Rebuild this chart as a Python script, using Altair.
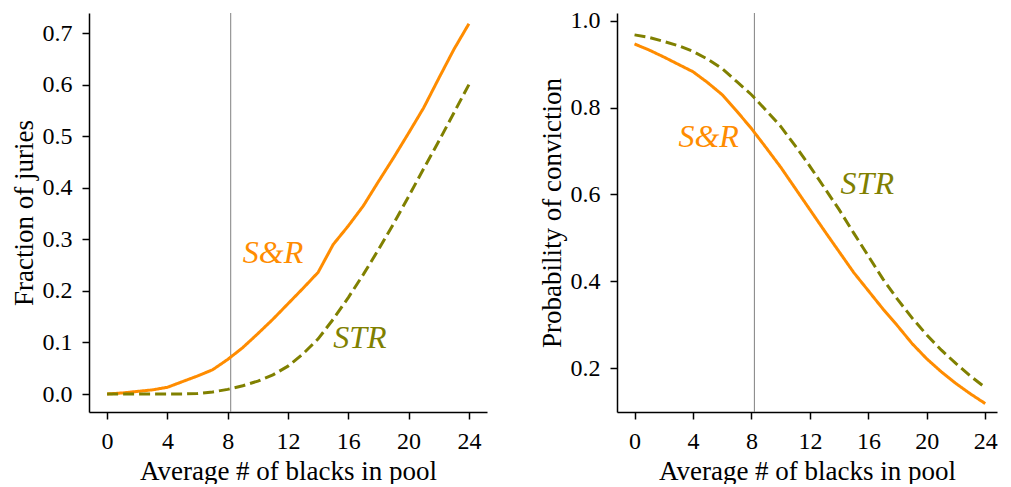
import pandas as pd
import altair as alt

# values, x = average number of blacks in pool
pool = list(range(25))

sr_juries = [0.000, 0.002, 0.005, 0.008, 0.013, 0.024, 0.035, 0.047, 0.067, 0.090,
             0.117, 0.145, 0.175, 0.205, 0.236, 0.290, 0.326, 0.365, 0.412, 0.458,
             0.506, 0.555, 0.612, 0.668, 0.718]
str_juries = [0.000, 0.000, 0.000, 0.000, 0.000, 0.000, 0.001, 0.004, 0.009, 0.016,
              0.025, 0.037, 0.054, 0.078, 0.107, 0.145, 0.187, 0.232, 0.280, 0.330,
              0.383, 0.437, 0.490, 0.545, 0.600]

sr_conviction = [0.947, 0.933, 0.917, 0.900, 0.883, 0.858, 0.830, 0.792, 0.752, 0.708,
                 0.663, 0.614, 0.565, 0.516, 0.468, 0.420, 0.378, 0.336, 0.297, 0.256,
                 0.221, 0.191, 0.164, 0.140, 0.118]
str_conviction = [0.968, 0.962, 0.953, 0.943, 0.930, 0.912, 0.890, 0.860, 0.830, 0.794,
                  0.757, 0.712, 0.665, 0.615, 0.565, 0.511, 0.458, 0.405, 0.358, 0.315,
                  0.276, 0.241, 0.210, 0.181, 0.155]

cutoff = 8.2

methods = ["S&R", "STR"]
method_colors = ["#ff8c00", "#808000"]
method_dashes = [[1, 0], [11, 5]]
x_ticks = [0, 4, 8, 12, 16, 20, 24]

# where the in-plot labels sit (data coords)
juries_label_x = [9.0, 15.0]
juries_label_y = [0.254, 0.09]
conviction_label_x = [3.0, 14.1]
conviction_label_y = [0.71, 0.60]

FONT = "Liberation Serif"


def long_table(sr, st):
    return pd.DataFrame({
        "pool": pool * 2,
        "value": sr + st,
        "method": ["S&R"] * len(pool) + ["STR"] * len(pool),
    })


def panel(df, labels, y_title, y_domain, y_ticks, x_domain, width, height):
    color = alt.Color("method:N",
                      scale=alt.Scale(domain=methods, range=method_colors),
                      legend=None)
    x = alt.X("pool:Q", title="Average # of blacks in pool",
              scale=alt.Scale(domain=x_domain, nice=False, zero=False),
              axis=alt.Axis(values=x_ticks, format="d"))
    y = alt.Y("value:Q", title=y_title,
              scale=alt.Scale(domain=y_domain, nice=False, zero=False),
              axis=alt.Axis(values=y_ticks, format=".1f"))

    rule = alt.Chart(pd.DataFrame({"pool": [cutoff]})).mark_rule(
        color="#808080", strokeWidth=1
    ).encode(x="pool:Q")

    lines = alt.Chart(df).mark_line(strokeWidth=3).encode(
        x=x,
        y=y,
        color=color,
        strokeDash=alt.StrokeDash("method:N",
                                  scale=alt.Scale(domain=methods, range=method_dashes),
                                  legend=None),
    )

    text = alt.Chart(labels).mark_text(
        align="left", baseline="alphabetic", fontStyle="italic",
        fontSize=32, font=FONT
    ).encode(x="pool:Q", y="value:Q", text="method:N", color=color)

    return alt.layer(rule, lines, text).properties(width=width, height=height)


juries = panel(
    long_table(sr_juries, str_juries),
    pd.DataFrame({"pool": juries_label_x, "value": juries_label_y, "method": methods}),
    "Fraction of juries",
    [-0.0349, 0.7388],
    [0.0, 0.1, 0.2, 0.3, 0.4, 0.5, 0.6, 0.7],
    [-1.2, 25.2], 398, 399,
)

conviction = panel(
    long_table(sr_conviction, str_conviction),
    pd.DataFrame({"pool": conviction_label_x, "value": conviction_label_y, "method": methods}),
    "Probability of conviction",
    [0.0986, 1.0184],
    [0.2, 0.4, 0.6, 0.8, 1.0],
    [-1.2, 24.8], 380, 399,
)

chart = (
    alt.hconcat(juries, conviction, spacing=51)
    .properties(padding={"left": 2, "top": 0, "right": 0, "bottom": 0})
    .configure_view(stroke=None)
    .configure_axis(
        labelFont=FONT, titleFont=FONT,
        labelFontSize=24, titleFontSize=27, titleFontWeight="normal",
        labelColor="black", titleColor="black",
        domainColor="black", domainWidth=1.5,
        tickColor="black", tickWidth=1.5, tickSize=7,
        labelPadding=10, grid=False,
    )
    .configure_axisY(titlePadding=4)
    .configure_axisX(titlePadding=5)
)

chart.save("out.html", embed_options={"renderer": "svg", "actions": False})
